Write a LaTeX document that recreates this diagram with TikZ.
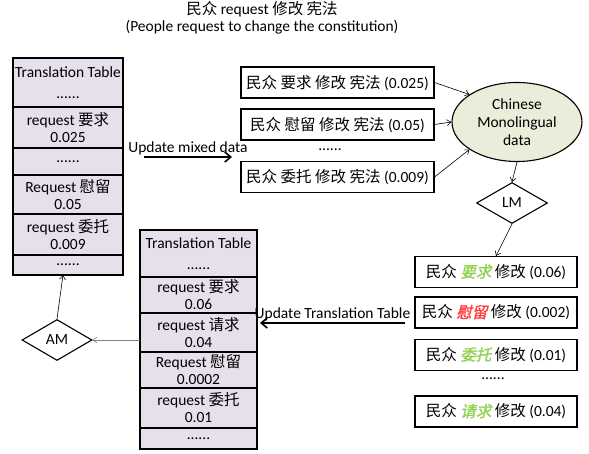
\documentclass[tikz,border=0pt]{standalone}
\usepackage{fontspec}
\setmainfont{Carlito}
\newfontfamily\cjk{Noto Sans CJK SC}
\newfontfamily\cjkem[FakeSlant=0.22,FakeBold=1.5]{Noto Sans CJK SC}
\usetikzlibrary{positioning,shapes.geometric,arrows.meta}
\definecolor{tablefill}{RGB}{230,224,236}
\definecolor{monofill}{RGB}{235,237,218}
\definecolor{goodword}{RGB}{146,208,80}
\definecolor{badword}{RGB}{255,60,60}
\newcommand{\zh}[1]{{\cjk #1}}
\newcommand{\good}[1]{{\color{goodword}\cjkem #1}}
\newcommand{\bad}[1]{{\color{badword}\cjkem #1}}
\newcommand{\etc}{......}

\begin{document}
\begin{tikzpicture}[x=1pt, y=-1pt,
  font=\fontsize{15.5}{17}\selectfont,
  cell/.style={draw, line width=1.1pt, fill=tablefill, inner sep=0pt, outer sep=0pt, align=center},
  sent/.style={draw, line width=1.1pt, minimum height=31pt, inner sep=0pt},
  decide/.style={diamond, draw, line width=1.1pt, inner sep=0pt, minimum width=71pt, minimum height=41pt},
  thin/.style={-{Straight Barb[length=4pt,width=6pt]}, line width=0.6pt},
  update/.style={-{Straight Barb[length=6pt,width=10pt]}, line width=1.6pt}
  ]
  \useasboundingbox (0,0) rectangle (589,454);

  \node [align=center] (title) at (262,18) {\zh{民众} request \zh{修改 宪法}\\(People request to change the constitution)};

  % translation table before
  \node [cell, minimum width=110pt, minimum height=49pt, anchor=north west] (tl0) at (13,58) {Translation Table\\[4pt]\etc};
  \foreach \h/\t [count=\i, remember=\i as \j (initially 0)] in {41/{request \zh{要求}\\0.025}, 27/\etc, 39/{Request \zh{慰留}\\0.05}, 41/{request \zh{委托}\\0.009}, 20/\etc}{
    \node [cell, minimum width=110pt, minimum height=\h pt, below=0pt of tl\j] (tl\i) {\t};
  }

  % translation table after
  \node [cell, minimum width=117pt, minimum height=47pt, anchor=north west] (tr0) at (140,230) {Translation Table\\[4pt]\etc};
  \foreach \h/\t [count=\i, remember=\i as \j (initially 0)] in {36/{request \zh{要求}\\0.06}, 39/{request \zh{请求}\\0.04}, 36/{Request \zh{慰留}\\0.0002}, 40/{request \zh{委托}\\0.01}, 21/\etc}{
    \node [cell, minimum width=117pt, minimum height=\h pt, below=0pt of tr\j] (tr\i) {\t};
  }

  % mixed sentences
  \foreach \word/\prob/\ypos [count=\i] in {要求/0.025/82.5, 慰留/0.05/124.5, 委托/0.009/177}{
    \node [sent, minimum width=193pt] (s\i) at (337.5,\ypos) {\zh{民众 \word{} 修改 宪法} (\prob)};
  }
  \node (sdots) at (330,150) {\etc};

  \node [ellipse, draw, line width=1.1pt, fill=monofill, minimum width=130pt, minimum height=79pt, inner sep=0pt, align=center, font=\fontsize{15.5}{18}\selectfont] (mono) at (517,122) {Chinese\\Monolingual\\data};
  \node [decide] (lm) at (512,203) {LM};

  % scored sentences
  \foreach \word/\prob/\ypos [count=\i] in {\good{要求}/0.06/272, \bad{慰留}/0.002/312.5, \good{委托}/0.01/355, \good{请求}/0.04/411.5}{
    \node [sent, minimum width=162pt] (r\i) at (496,\ypos) {\zh{民众} \word{} \zh{修改} (\prob)};
  }
  \node (rdots) at (493,379) {\etc};

  \node [decide, minimum width=70pt] (am) at (57,340) {AM};

  \draw [thin] (s1.east) -- (mono.150);
  \draw [thin] (s2.east) -- (mono.west);
  \draw [thin] (s3.east) -- (mono.210);
  \draw [thin] (mono.south) -- (lm.north);
  \draw [thin] (lm.south) -- (r1.north);
  \draw [thin, gray] (am.east -| tr2.west) -- (am.east);
  \draw [thin] (am.north) -- ([xshift=-5pt]tl5.south);

  \coordinate (mixa) at (144,157);
  \coordinate (mixb) at (232,157);
  \draw [update] (mixa) -- node [above, inner sep=1pt] {Update mixed data} (mixb);

  \coordinate (upta) at (405,323);
  \draw [update] (upta) -- node [above, inner sep=1pt] {Update Translation Table} ([xshift=3pt]upta -| tr2.east);
\end{tikzpicture}
\end{document}
